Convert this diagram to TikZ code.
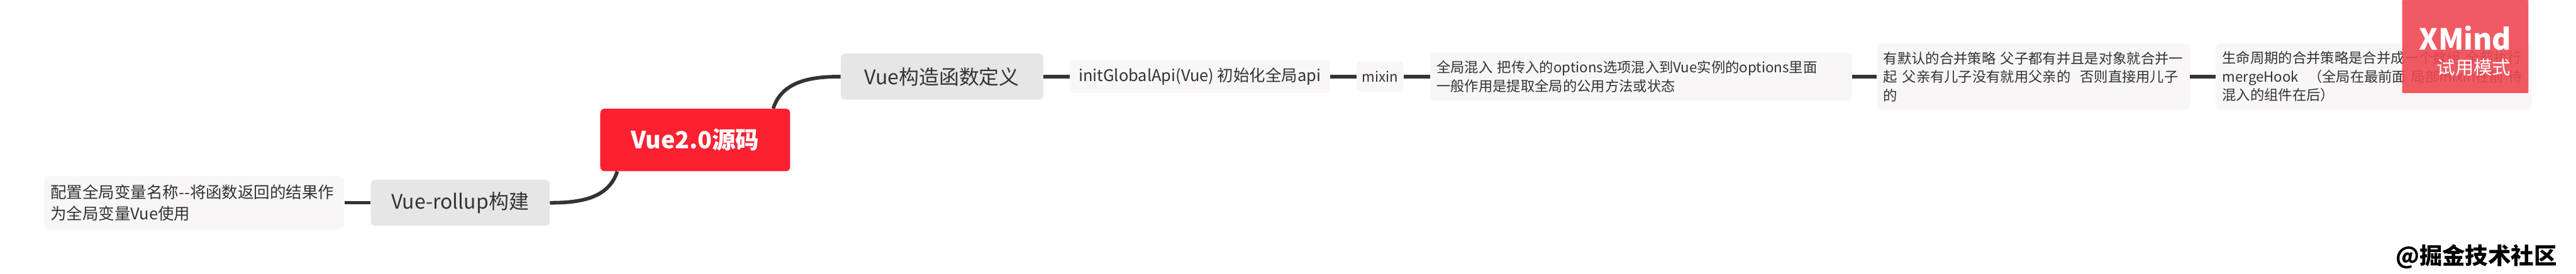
\documentclass[tikz,border=0pt]{standalone}
\usepackage{fontspec}
\setmainfont{Noto Sans CJK SC}
\usepackage{tikz}
\definecolor{rootred}{HTML}{FB2130}
\definecolor{branchgray}{HTML}{E6E6E7}
\definecolor{leafgray}{HTML}{F8F6F6}
\definecolor{inkgray}{HTML}{333333}
\definecolor{trialred}{HTML}{EE4853}
\tikzset{
	rootbox/.style={draw=none, rectangle, rounded corners=5pt, fill=rootred, text=white, font=\fontsize{26.8}{32}\selectfont\bfseries, minimum width=7.58cm, minimum height=2.5cm},
	branchbox/.style={draw=none, rectangle, rounded corners=5pt, fill=branchgray, text=inkgray, font=\fontsize{22.8}{28}\selectfont, minimum height=1.84cm},
	leafbox/.style={draw=none, rectangle, rounded corners=5pt, fill=leafgray, text=inkgray, font=\fontsize{15.94}{21}\selectfont, align=left, inner xsep=0.26cm, inner ysep=0pt},
	bigleaf/.style={leafbox, font=\fontsize{18.2}{24.5}\selectfont},
	trunk/.style={line width=0.145cm, color=inkgray},
	twig/.style={line width=0.14cm, color=inkgray}
}
\begin{document}
\begin{tikzpicture}
				\useasboundingbox (0, 0) rectangle (102.82, 10.94);
				\node[rootbox] (Root)at(27.75, 5.35) {Vue2.0源码};
				\node[branchbox, minimum width=7.14cm] (Rollup)at(18.37, 2.84) {Vue-rollup构建};
				\node[bigleaf, text width=11.46cm, minimum height=2.12cm] (Global)at(7.75, 2.84) {配置全局变量名称-{}-将函数返回的结果作\\为全局变量Vue使用};
				\node[branchbox, minimum width=8.08cm] (Ctor)at(37.6, 7.88) {Vue构造函数定义};
				\node[bigleaf, minimum width=10.38cm, minimum height=1.32cm, inner xsep=0pt] (Init)at(47.89, 7.88) {initGlobalApi(Vue) 初始化全局api};
				\node[leafbox, minimum width=1.88cm, minimum height=1.2cm, inner xsep=0pt] (Mixin)at(55.08, 7.88) {mixin};
				\node[leafbox, text width=16.32cm, minimum height=1.92cm] (MixDef)at(65.5, 7.88) {全局混入 把传入的options选项混入到Vue实例的options里面\\一般作用是提取全局的公用方法或状态};
				\node[leafbox, text width=11.96cm, minimum height=2.64cm] (Merge)at(81.16, 7.88) {有默认的合并策略 父子都有并且是对象就合并一\\起 父亲有儿子没有就用父亲的\ \ 否则直接用儿子\\的};
				\node[leafbox, text width=12.1cm, minimum height=2.64cm] (Hook)at(94.75, 7.88) {生命周期的合并策略是合并成一个数组 全部执行\\mergeHook \ （全局在最前面 局部mixin在前 待\\混入的组件在后）};
				\draw[trunk] (Root.22) to[out=72, in=180] (Ctor.west);
				\draw[trunk] (Root.202) to[out=252, in=0] (Rollup.east);
				\draw[twig] (Rollup) -- (Global);
				\draw[twig] (Ctor) -- (Init);
				\draw[twig] (Init) -- (Mixin);
				\draw[twig] (Mixin) -- (MixDef);
				\draw[twig] (MixDef) -- (Merge);
				\draw[twig] (Merge) -- (Hook);
				\node[draw=none, rectangle, rounded corners=1pt, fill=trialred, fill opacity=0.9, minimum width=5.04cm, minimum height=3.72cm] (XM)at(98.4, 9.08) {};
				\node[text=white, inner sep=0pt, font=\fontsize{33}{38}\selectfont\bfseries] (XMname)at(98.4, 9.42) {XMind};
				\node[text=white, inner sep=0pt, font=\fontsize{21}{25}\selectfont] (XMtrial)at(98.74, 8.24) {试用模式};
				\node[anchor=east, inner sep=0pt, text=black, font=\fontsize{26}{30}\selectfont\bfseries] (Mark)at(102.06, 0.7) {@掘金技术社区};
\end{tikzpicture}
\end{document}
